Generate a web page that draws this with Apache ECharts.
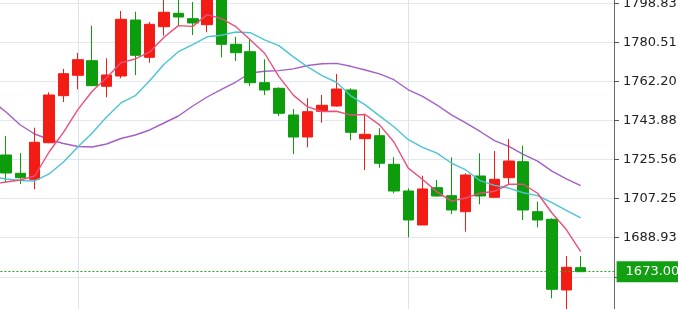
<!DOCTYPE html>
<html><head><meta charset="utf-8">
<script src="https://cdn.jsdelivr.net/npm/echarts@6/dist/echarts.min.js"></script>
<style>html,body{margin:0;padding:0;background:#fff;overflow:hidden}#c{width:678px;height:309px}</style>
</head><body><div id="c"></div>
<script>
// category slots: one lead-in slot (lines only), 41 candles, two empty slots on the right
const categories = ['0','1','2','3','4','5','6','7','8','9','10','11','12','13','14','15','16','17','18','19','20','21','22','23','24','25','26','27','28','29','30','31','32','33','34','35','36','37','38','39','40','41','42','43'];
const opens  = [1727.71,1719.13,1716.31,1733.47,1755.51,1765.07,1771.92,1759.92,1764.75,1791.00,1773.51,1787.86,1794.14,1791.61,1788.80,1801.50,1779.61,1776.14,1761.61,1758.98,1746.46,1736.15,1748.20,1750.68,1758.18,1735.35,1736.76,1723.35,1710.83,1694.89,1712.38,1708.62,1701.12,1717.86,1707.87,1717.06,1724.57,1701.12,1697.56,1664.41,1674.87];
const closes = [1719.27,1717.06,1733.66,1755.84,1765.83,1772.39,1760.20,1765.22,1791.33,1774.45,1788.99,1794.61,1792.41,1789.60,1802.00,1779.61,1775.67,1761.61,1758.18,1747.26,1736.15,1748.01,1751.01,1758.65,1738.35,1737.41,1723.82,1710.83,1697.23,1711.77,1708.48,1701.92,1718.33,1708.48,1716.31,1724.89,1701.92,1697.23,1664.74,1675.05,1673.00];
const lows   = [1715.05,1714.11,1711.62,1733.19,1752.56,1758.51,1760.06,1754.76,1763.67,1765.22,1770.98,1783.64,1788.19,1783.97,1785.24,1773.51,1771.78,1760.06,1755.84,1745.99,1728.18,1731.32,1742.85,1750.35,1734.60,1720.67,1721.75,1709.75,1689.12,1694.89,1708.16,1700.04,1691.74,1704.59,1707.87,1713.64,1697.23,1693.81,1660.52,1654.00,1673.00];
const highs  = [1736.61,1728.64,1740.51,1757.10,1768.03,1775.53,1788.33,1773.05,1795.22,1794.89,1790.07,1801.50,1801.00,1799.44,1803.00,1803.50,1783.17,1781.95,1772.58,1759.45,1749.27,1754.29,1755.84,1765.68,1758.98,1746.46,1740.23,1726.63,1712.09,1718.00,1715.99,1726.63,1719.13,1728.50,1729.58,1735.21,1732.07,1705.81,1698.03,1680.35,1680.35];
// moving averages (first value = lead-in slot)
const ma5  = [1714.10,1715.05,1715.99,1717.86,1729.11,1738.33,1748.96,1757.58,1763.90,1770.99,1772.72,1776.04,1782.92,1788.36,1788.01,1793.52,1791.65,1787.86,1781.70,1775.41,1764.47,1755.77,1750.24,1748.12,1748.22,1746.43,1746.69,1741.85,1733.81,1721.53,1716.21,1710.43,1706.05,1707.55,1709.80,1710.70,1713.99,1713.99,1709.77,1700.50,1692.77,1682.39];
const ma10 = [1717.50,1716.45,1715.75,1715.52,1718.80,1724.42,1731.46,1738.02,1745.52,1752.09,1755.53,1762.50,1770.25,1776.13,1779.50,1783.12,1783.84,1785.39,1785.03,1781.71,1778.99,1773.71,1769.05,1764.91,1761.82,1755.45,1751.23,1746.05,1740.97,1734.87,1731.32,1728.56,1723.95,1720.68,1715.66,1713.46,1712.21,1710.02,1708.66,1705.41,1701.74,1698.19];
const ma20 = [1753.20,1747.87,1741.77,1737.55,1734.97,1733.10,1731.70,1731.46,1732.86,1735.45,1737.08,1739.43,1742.71,1745.99,1750.68,1754.90,1758.42,1761.93,1766.15,1767.00,1767.26,1768.10,1769.65,1770.52,1770.66,1769.29,1767.54,1765.72,1763.00,1758.29,1755.16,1751.13,1746.50,1742.79,1738.74,1734.45,1731.72,1728.03,1724.81,1720.14,1716.53,1713.37];
const yTicks  = [1670.61,1688.93,1707.25,1725.56,1743.88,1762.20,1780.51,1798.83];
const yLabels = [1688.93,1707.25,1725.56,1743.88,1762.20,1780.51,1798.83];
const dividerSlots = ['6','29'];

const candleData = ['-'];
for (let i = 0; i < opens.length; i++) candleData.push([opens[i], closes[i], lows[i], highs[i]]);
const lastClose = closes[closes.length - 1];

const UP = '#f21c14', DOWN = '#0c9c0c';
const chart = echarts.init(document.getElementById('c'), null, {renderer: 'canvas'});
chart.setOption({
  animation: false,
  grid: {left: -15.57, right: 61.4, top: 0, bottom: 0, outerBoundsMode: 'none', containLabel: false},
  xAxis: {type: 'category', data: categories, boundaryGap: true, show: false},
  yAxis: {
    type: 'value', position: 'right', min: 1655.5, max: 1800.38, offset: -2.6,
    axisLine: {show: true, lineStyle: {color: '#6a6a6a', width: 1}},
    axisTick: {show: true, length: 5, customValues: yTicks, lineStyle: {color: '#555'}},
    axisLabel: {customValues: yLabels, margin: 9, color: '#222', fontSize: 13, fontFamily: 'DejaVu Sans',
      formatter: v => v.toFixed(2)},
    splitLine: {show: true, lineStyle: {color: '#e3e7ee', width: 1}}
  },
  series: [
    {
      type: 'line', data: ma20, showSymbol: false, symbol: 'none', z: 1,
      lineStyle: {color: '#a45ec8', width: 1.4},
      markLine: {silent: true, symbol: 'none', z: 1, label: {show: false},
        lineStyle: {color: '#dce3ee', type: 'solid', width: 1},
        data: dividerSlots.map(s => ({xAxis: s}))}
    },
    {
      type: 'candlestick', data: candleData, barWidth: 11, z: 2,
      itemStyle: {color: UP, color0: DOWN, borderColor: UP, borderColor0: DOWN, borderWidth: 1},
      markLine: {
        silent: true, symbol: 'none',
        lineStyle: {color: '#1faa1f', type: [2, 2], width: 1, opacity: 1},
        label: {show: true, position: 'end', distance: 0, formatter: lastClose.toFixed(2),
          backgroundColor: '#12a012', color: '#fff', fontSize: 13, fontFamily: 'DejaVu Sans',
          padding: [4, 8, 4, 9]},
        data: [{yAxis: lastClose}]
      }
    },
    {type: 'line', data: ma10, showSymbol: false, symbol: 'none', z: 3, lineStyle: {color: '#4cc4d4', width: 1.4}},
    {type: 'line', data: ma5, showSymbol: false, symbol: 'none', z: 3, lineStyle: {color: '#e84f7c', width: 1.4}}
  ]
});
</script></body></html>
